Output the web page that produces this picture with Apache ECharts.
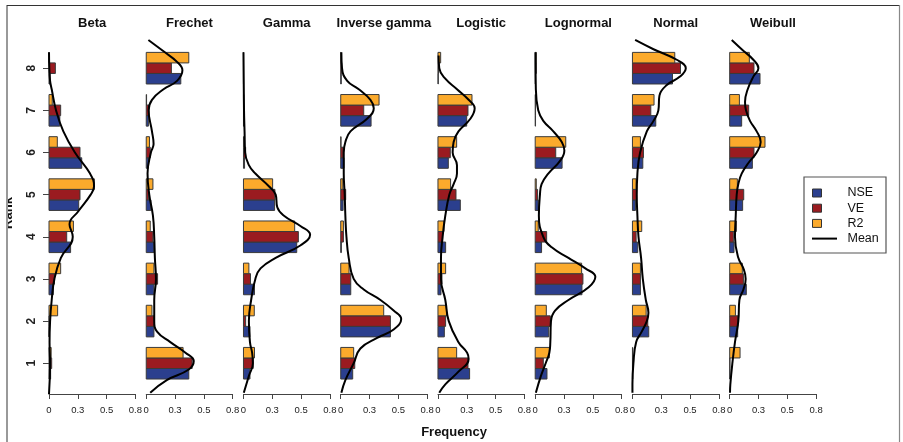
<!DOCTYPE html>
<html>
<head>
<meta charset="utf-8">
<script src="https://cdn.jsdelivr.net/npm/echarts@6/dist/echarts.min.js"></script>
<style>html,body{margin:0;padding:0;background:#fff;}#c{width:903px;height:442px;}</style>
</head>
<body>
<div id="c"></div>
<script>
// ---------- DATA ----------
const panelNames = ['Beta', 'Frechet', 'Gamma', 'Inverse gamma', 'Logistic', 'Lognormal', 'Normal', 'Weibull'];
const ranks = [1, 2, 3, 4, 5, 6, 7, 8];
const rankTickLabels = ['1', '2', '3', '4', '5', '6', '7', '8'];
const freqTicks = [0, 0.8 / 3, 1.6 / 3, 0.8];
const freqTickLabels = ['0', '0.3', '0.5', '0.8'];
const seriesNames = ['NSE', 'VE', 'R2', 'Mean'];

// bar values, rank 1..8
const betaNSE = [0.015, 0.0, 0.04, 0.2, 0.275, 0.303, 0.1, 0.01];
const betaVE = [0.025, 0.0, 0.05, 0.164, 0.287, 0.287, 0.108, 0.059];
const betaR2 = [0.02, 0.08, 0.108, 0.226, 0.42, 0.077, 0.03, 0.0];

const frechetNSE = [0.394, 0.071, 0.071, 0.071, 0.043, 0.02, 0.02, 0.32];
const frechetVE = [0.425, 0.074, 0.105, 0.062, 0.02, 0.037, 0.025, 0.233];
const frechetR2 = [0.341, 0.053, 0.071, 0.037, 0.062, 0.03, 0.003, 0.394];

const gammaNSE = [0.06, 0.06, 0.102, 0.493, 0.288, 0.01, 0.005, 0.0];
const gammaVE = [0.09, 0.02, 0.065, 0.508, 0.291, 0.02, 0.005, 0.0];
const gammaR2 = [0.102, 0.1, 0.05, 0.474, 0.27, 0.01, 0.003, 0.0];

const invGammaNSE = [0.111, 0.46, 0.093, 0.006, 0.022, 0.03, 0.281, 0.005];
const invGammaVE = [0.13, 0.46, 0.093, 0.025, 0.046, 0.022, 0.213, 0.008];
const invGammaR2 = [0.12, 0.398, 0.077, 0.025, 0.02, 0.003, 0.355, 0.003];

const logisticNSE = [0.293, 0.059, 0.028, 0.071, 0.207, 0.096, 0.266, 0.003];
const logisticVE = [0.278, 0.071, 0.037, 0.043, 0.167, 0.114, 0.278, 0.005];
const logisticR2 = [0.173, 0.08, 0.071, 0.056, 0.117, 0.173, 0.315, 0.025];

const lognormalNSE = [0.109, 0.125, 0.433, 0.059, 0.028, 0.249, 0.003, 0.003];
const lognormalVE = [0.075, 0.14, 0.442, 0.106, 0.022, 0.19, 0.003, 0.01];
const lognormalR2 = [0.131, 0.103, 0.43, 0.028, 0.01, 0.283, 0.003, 0.01];

const normalNSE = [0.003, 0.151, 0.074, 0.049, 0.028, 0.096, 0.216, 0.371];
const normalVE = [0.003, 0.142, 0.074, 0.034, 0.037, 0.102, 0.17, 0.445];
const normalR2 = [0.003, 0.127, 0.074, 0.086, 0.034, 0.074, 0.2, 0.392];

const weibullNSE = [0.003, 0.074, 0.154, 0.04, 0.12, 0.21, 0.111, 0.281];
const weibullVE = [0.003, 0.077, 0.127, 0.034, 0.13, 0.225, 0.176, 0.225];
const weibullR2 = [0.096, 0.053, 0.117, 0.062, 0.071, 0.327, 0.09, 0.182];

// mean density curves, [frequency, rank]
const betaMean = [[0, 0.27], [0.01, 1], [0.005, 1.5], [0.01, 2], [0.025, 2.5], [0.05, 3], [0.11, 3.5], [0.22, 4], [0.19, 4.3], [0.27, 4.6], [0.386, 5], [0.417, 5.2], [0.38, 5.5], [0.24, 6], [0.133, 6.5], [0.065, 7], [0.025, 7.5], [0.01, 7.7], [0.003, 8], [0, 8.38]];
const frechetMean = [[0.037, 0.3], [0.19, 0.6], [0.394, 0.85], [0.44, 1.05], [0.363, 1.25], [0.223, 1.5], [0.1, 1.75], [0.074, 2], [0.074, 2.5], [0.09, 3], [0.08, 3.5], [0.074, 4], [0.062, 4.5], [0.028, 5], [0.012, 5.5], [0.043, 6], [0.068, 6.2], [0.053, 6.5], [0.022, 7], [0.053, 7.25], [0.16, 7.5], [0.285, 7.7], [0.335, 7.95], [0.285, 8.15], [0.16, 8.4], [0.02, 8.67]];
const gammaMean = [[0.003, 0.3], [0.05, 0.7], [0.087, 1], [0.08, 1.25], [0.06, 1.5], [0.05, 2], [0.071, 2.5], [0.11, 3], [0.158, 3.25], [0.298, 3.5], [0.53, 3.8], [0.617, 4.05], [0.53, 4.25], [0.375, 4.5], [0.313, 4.7], [0.298, 5], [0.235, 5.2], [0.11, 5.5], [0.05, 5.7], [0.015, 6], [0.01, 6.5], [0.005, 7], [0, 8.38]];
const invGammaMean = [[0.006, 0.3], [0.043, 0.6], [0.12, 1], [0.182, 1.35], [0.337, 1.6], [0.49, 1.8], [0.56, 2.05], [0.49, 2.25], [0.368, 2.5], [0.213, 2.75], [0.12, 3], [0.074, 3.5], [0.053, 4], [0.043, 4.5], [0.037, 5], [0.028, 5.5], [0.028, 6], [0.043, 6.25], [0.09, 6.5], [0.244, 6.8], [0.306, 7.05], [0.275, 7.25], [0.167, 7.5], [0.06, 7.7], [0.012, 8], [0.006, 8.38]];
const logisticMean = [[0.012, 0.3], [0.068, 0.5], [0.19, 0.8], [0.284, 1.1], [0.27, 1.25], [0.19, 1.5], [0.1, 2], [0.068, 2.5], [0.028, 3], [0.028, 3.5], [0.043, 4], [0.068, 4.5], [0.105, 5], [0.145, 5.25], [0.176, 5.5], [0.176, 5.7], [0.136, 6], [0.145, 6.25], [0.19, 6.5], [0.3, 6.8], [0.34, 7.05], [0.284, 7.25], [0.176, 7.5], [0.068, 7.75], [0.012, 8], [0.006, 8.3]];
const lognormalMean = [[0.006, 0.3], [0.053, 0.7], [0.097, 1], [0.131, 1.25], [0.14, 1.5], [0.146, 2], [0.184, 2.25], [0.308, 2.5], [0.495, 2.8], [0.557, 3.05], [0.464, 3.25], [0.308, 3.5], [0.153, 3.75], [0.075, 4], [0.034, 4.5], [0.044, 5], [0.059, 5.25], [0.121, 5.5], [0.23, 5.8], [0.27, 6.05], [0.246, 6.25], [0.168, 6.5], [0.075, 6.75], [0.028, 7], [0.006, 7.5], [0.003, 8.38]];
const normalMean = [[0, 0.3], [0, 0.5], [0.009, 1], [0.034, 1.5], [0.086, 1.75], [0.133, 2], [0.148, 2.2], [0.124, 2.5], [0.096, 3], [0.08, 3.5], [0.056, 4], [0.046, 4.5], [0.04, 5], [0.046, 5.5], [0.071, 6], [0.133, 6.5], [0.195, 6.75], [0.24, 7], [0.25, 7.35], [0.318, 7.6], [0.44, 7.8], [0.494, 8], [0.41, 8.2], [0.195, 8.45], [0.025, 8.67]];
const weibullMean = [[0.003, 0.3], [0.006, 0.5], [0.025, 1], [0.049, 1.5], [0.08, 2], [0.09, 2.5], [0.127, 2.75], [0.148, 3], [0.127, 3.25], [0.08, 3.5], [0.049, 4], [0.056, 4.5], [0.065, 5], [0.08, 5.25], [0.111, 5.5], [0.173, 5.75], [0.25, 6], [0.287, 6.25], [0.25, 6.5], [0.188, 6.75], [0.151, 7], [0.142, 7.2], [0.167, 7.5], [0.219, 7.8], [0.266, 8], [0.219, 8.2], [0.111, 8.45], [0.019, 8.67]];

const panelNSE = [betaNSE, frechetNSE, gammaNSE, invGammaNSE, logisticNSE, lognormalNSE, normalNSE, weibullNSE];
const panelVE = [betaVE, frechetVE, gammaVE, invGammaVE, logisticVE, lognormalVE, normalVE, weibullVE];
const panelR2 = [betaR2, frechetR2, gammaR2, invGammaR2, logisticR2, lognormalR2, normalR2, weibullR2];
const panelMean = [betaMean, frechetMean, gammaMean, invGammaMean, logisticMean, lognormalMean, normalMean, weibullMean];

// ---------- STYLE / LAYOUT ----------
const FONT = "'Liberation Sans', Arial, sans-serif";
const colors = { NSE: '#2B3F8E', VE: '#9A1B20', R2: '#FBAA2C' };
const barOffset = { NSE: -0.25, VE: 0, R2: 0.25 };
const barH = 0.25;
const gridLeft0 = 49, gridStep = 97.24, gridW = 86.4, gridTop = 37, gridH = 357;
const yMin = 0.27, yMax = 8.74;

const grids = [], xAxes = [], yAxes = [], series = [], titles = [];

function barRender(metric) {
  return function (params, api) {
    const v = api.value(0), r = api.value(1);
    const p0 = api.coord([0, r + barOffset[metric] + barH / 2]);
    const p1 = api.coord([v, r + barOffset[metric] - barH / 2]);
    return {
      type: 'rect',
      shape: { x: p0[0], y: p0[1], width: p1[0] - p0[0], height: p1[1] - p0[1] },
      style: { fill: colors[metric], stroke: '#3a3a3a', lineWidth: 1 }
    };
  };
}

panelNames.forEach((name, i) => {
  const left = gridLeft0 + i * gridStep;
  grids.push({ left: left, top: gridTop, width: gridW, height: gridH, containLabel: false });
  titles.push({
    text: name, left: left + gridW / 2, top: 16.5, textAlign: 'center', padding: 0,
    textStyle: { fontFamily: FONT, fontSize: 13, fontWeight: 'bold', color: '#111' }
  });
  xAxes.push({
    type: 'value', gridIndex: i, min: 0, max: 0.8,
    splitLine: { show: false },
    axisLine: { show: true, lineStyle: { color: '#444', width: 1 } },
    axisTick: { show: true, length: 5, lineStyle: { color: '#444' }, customValues: freqTicks },
    axisLabel: {
      show: true, customValues: freqTicks, margin: 11.5, hideOverlap: false, showMinLabel: true, showMaxLabel: true,
      fontFamily: FONT, fontSize: 9.5, color: '#222',
      formatter: function (v) {
        let best = 0;
        freqTicks.forEach((t, k) => { if (Math.abs(t - v) < Math.abs(freqTicks[best] - v)) best = k; });
        return freqTickLabels[best];
      }
    }
  });
  yAxes.push({
    type: 'value', gridIndex: i, min: yMin, max: yMax,
    show: i === 0,
    splitLine: { show: false },
    axisLine: { show: false },
    axisTick: { show: i === 0, length: 6, lineStyle: { color: '#444' }, customValues: ranks },
    axisLabel: {
      show: i === 0, customValues: ranks, rotate: 90, margin: 11,
      fontFamily: FONT, fontSize: 12, fontWeight: 'bold', color: '#222',
      formatter: function (v) { return rankTickLabels[ranks.indexOf(Math.round(v))]; }
    }
  });
  [['NSE', panelNSE[i]], ['VE', panelVE[i]], ['R2', panelR2[i]]].forEach(([metric, vals]) => {
    series.push({
      type: 'custom', name: metric, xAxisIndex: i, yAxisIndex: i,
      renderItem: barRender(metric),
      data: vals.map((v, k) => [v, ranks[k]]),
      silent: true, z: 2
    });
  });
  series.push({
    type: 'line', name: 'Mean', xAxisIndex: i, yAxisIndex: i,
    data: panelMean[i], smooth: 0.45, symbol: 'none', showSymbol: false,
    lineStyle: { color: '#000', width: 2 }, silent: true, z: 5, animation: false
  });
});

// legend drawn as graphic
const lgX = 804, lgY = 177, lgW = 82, lgH = 76;
const legendItems = [];
legendItems.push({ type: 'rect', shape: { x: lgX, y: lgY, width: lgW, height: lgH }, style: { fill: '#fff', stroke: '#555', lineWidth: 1.2 }, z: 10 });
seriesNames.forEach((nm, k) => {
  const cy = 193 + k * 15.2;
  if (nm !== 'Mean') {
    legendItems.push({ type: 'rect', shape: { x: 812.5, y: cy - 4, width: 9, height: 8 }, style: { fill: colors[nm], stroke: '#333', lineWidth: 1 }, z: 11 });
  } else {
    legendItems.push({ type: 'line', shape: { x1: 812, y1: cy, x2: 837, y2: cy }, style: { stroke: '#000', lineWidth: 2 }, z: 11 });
  }
  legendItems.push({ type: 'text', style: { x: 847.5, y: cy, text: nm, fontFamily: FONT, fontSize: 12.5, fill: '#111', verticalAlign: 'middle', align: 'left' }, z: 11 });
});

const graphics = [
  { type: 'text', style: { x: 0, y: 0, text: 'Rank', fontFamily: FONT, fontSize: 13, fontWeight: 'bold', fill: '#111', align: 'center', verticalAlign: 'middle' }, x: 8.5, y: 213, rotation: Math.PI / 2, z: 1 },
  { type: 'rect', shape: { x: 0, y: 0, width: 6.5, height: 442 }, style: { fill: '#fff' }, z: 20 },
  { type: 'line', shape: { x1: 7, y1: 5, x2: 7, y2: 442 }, style: { stroke: '#999', lineWidth: 2 }, z: 21 },
  { type: 'line', shape: { x1: 7, y1: 5.5, x2: 899, y2: 5.5 }, style: { stroke: '#333', lineWidth: 1.2 }, z: 21 },
  { type: 'line', shape: { x1: 899.5, y1: 5, x2: 899.5, y2: 442 }, style: { stroke: '#888', lineWidth: 1.2 }, z: 21 },
  { type: 'text', style: { x: 454, y: 432, text: 'Frequency', fontFamily: FONT, fontSize: 13, fontWeight: 'bold', fill: '#111', align: 'center', verticalAlign: 'middle' }, z: 5 }
].concat(legendItems);

const chart = echarts.init(document.getElementById('c'), null, { renderer: 'canvas' });
chart.setOption({
  animation: false,
  backgroundColor: '#fff',
  title: titles,
  grid: grids,
  xAxis: xAxes,
  yAxis: yAxes,
  series: series,
  graphic: graphics
});
</script>
</body>
</html>
